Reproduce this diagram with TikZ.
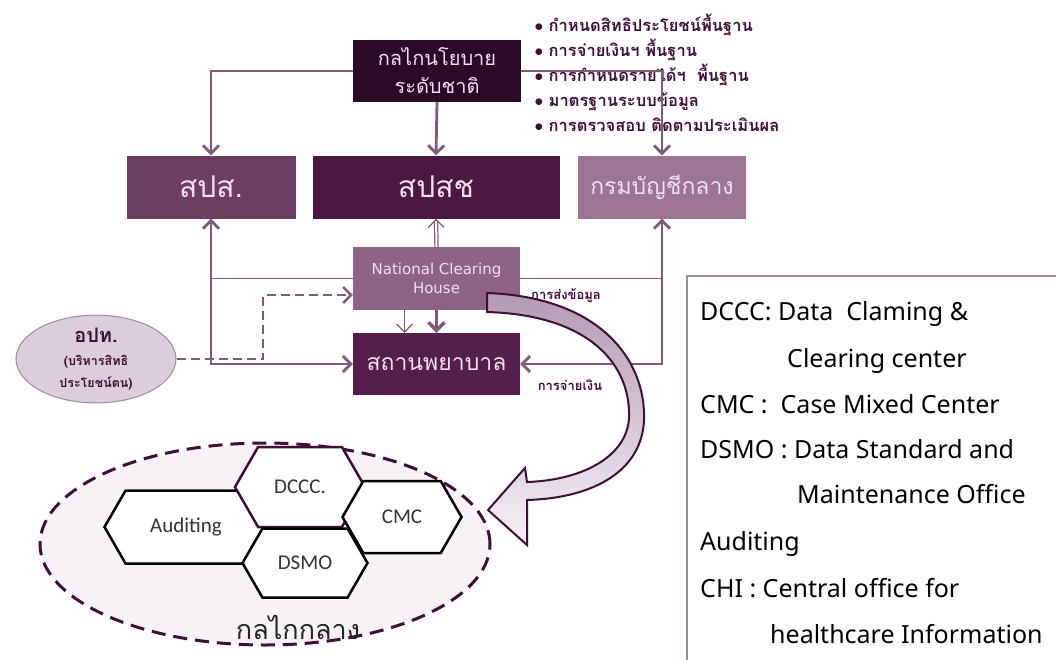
\documentclass[tikz,border=0pt]{standalone}
\usepackage{fontspec}
\usetikzlibrary{arrows.meta}
\usetikzlibrary{shapes.geometric,shapes.symbols}
\newfontfamily\thaifont[Script=Thai]{Loma}
\newfontfamily\legfont{Noto Sans}
\newfontfamily\hexfont{Carlito}
\newfontfamily\nchfont{DejaVu Sans}

\definecolor{policyc}{HTML}{2B0A26}
\definecolor{spsc}{HTML}{6D3D62}
\definecolor{spschc}{HTML}{4A1840}
\definecolor{cgdc}{HTML}{9C7593}
\definecolor{nchc}{HTML}{8E6486}
\definecolor{hospc}{HTML}{541F4A}
\definecolor{linec}{HTML}{7E5C78}
\definecolor{boxtext}{HTML}{F2DFEE}
\definecolor{darkc}{HTML}{3F0F38}
\definecolor{optc}{HTML}{DCCDDB}
\definecolor{mechc}{HTML}{F6F2F6}
\definecolor{ribbonc}{HTML}{B49AB2}
\definecolor{legc}{HTML}{9C8C9A}

\tikzset{
  box/.style={minimum width=168pt, minimum height=63pt, inner sep=0pt, text=boxtext, align=center},
  conn/.style={draw=linec, line width=2.8pt},
  thinconn/.style={draw=linec, line width=1.2pt},
  dashline/.style={draw=linec, line width=2.4pt, dash pattern=on 9pt off 5pt},
  lbl/.style={text=darkc, font=\thaifont\bfseries\fontsize{13}{15}\selectfont},
  hexbox/.style={shape=signal, signal to=west and east, signal pointer angle=120,
    draw=black, line width=2.5pt, fill=white, inner sep=0pt,
    font=\hexfont\fontsize{21}{24}\selectfont, text=black!80},
  legend/.style={anchor=base west, inner sep=0pt, font=\legfont\fontsize{25}{30}\selectfont},
  >={Straight Barb[length=8pt,width=16pt]}
}

\begin{document}
\begin{tikzpicture}[x=1pt,y=-1pt]
\useasboundingbox (0,0) rectangle (1056,659);

% top level
\node[box, fill=policyc, minimum height=62pt, font=\thaifont\fontsize{20}{28}\selectfont] (policy) at (437,71) {กลไกนโยบาย\\ระดับชาติ};
\node[anchor=north west, align=left, text=darkc, font=\thaifont\bfseries\fontsize{16.5}{25}\selectfont] (bul) at (531,10)
  {$\bullet$ กำหนดสิทธิประโยชน์พื้นฐาน\\
   $\bullet$ การจ่ายเงินฯ พื้นฐาน\\
   $\bullet$ การกำหนดรายได้ฯ\ \ พื้นฐาน\\
   $\bullet$ มาตรฐานระบบข้อมูล\\
   $\bullet$ การตรวจสอบ ติดตามประเมินผล};

% funds
\node[box, fill=spsc, minimum width=169pt, font=\thaifont\fontsize{30}{30}\selectfont] (sps) at (211,187) {สปส.};
\node[box, fill=spschc, minimum width=247pt, font=\thaifont\fontsize{30}{30}\selectfont] (spsch) at (436,187) {สปสช};
\node[box, fill=cgdc, font=\thaifont\fontsize{23}{23}\selectfont] (cgd) at (662,187) {กรมบัญชีกลาง};

% clearing house and hospital
\node[box, fill=nchc, minimum width=167pt, font=\nchfont\fontsize{15}{19}\selectfont] (nch) at (436.5,278.5) {National Clearing\\House};
\node[box, fill=hospc, minimum width=167pt, minimum height=62pt, font=\thaifont\fontsize{23}{23}\selectfont] (hosp) at (436.5,364) {สถานพยาบาล};

\node[ellipse, draw=legc, fill=optc, line width=1pt, minimum width=160pt, minimum height=76pt, align=center, text=darkc, inner sep=0pt, font=\thaifont\bfseries\fontsize{12.5}{22}\selectfont] (opt) at (96,359)
  {\fontsize{20}{20}\selectfont อปท.\\[1pt]
   \fontsize{12.5}{22}\selectfont (บริหารสิทธิ\\
   \fontsize{12.5}{22}\selectfont ประโยชน์ตน)};

\draw[conn,->] (policy.west) -| (sps.north);
\draw[conn,->] (policy.south) -- (spsch.north);
\draw[conn,->] (policy.east) -| (cgd.north);
\draw[conn,<->] (sps.south) |- (hosp.west);
\draw[conn,<->] (cgd.south) |- (hosp.east);
\draw[thinconn] (sps.south |- nch.west) -- (nch.west);
\draw[thinconn] (nch.east) -- (cgd.south |- nch.east);
\draw[thinconn, double distance=2pt, ->] (nch.north) -- (spsch.south);
\draw[thinconn, ->] ([xshift=-32pt]nch.south) -- ([xshift=-32pt]hosp.north);
\draw[conn, line width=3.5pt, ->] (nch.south) -- (hosp.north);
\coordinate (dbend) at (263,295);
\draw[dashline,->] (opt.east) -| (dbend) -- (dbend -| nch.west);

\node[lbl] (send) at (566,296) {การส่งข้อมูล};
\node[lbl] (pay) at (570,385) {การจ่ายเงิน};

% central mechanism
\node[ellipse, draw=darkc, line width=3pt, dash pattern=on 14pt off 8pt, fill=mechc, minimum width=450pt, minimum height=202pt] (mech) at (265,544) {};
\node[text=black!85, font=\thaifont\fontsize{27}{30}\selectfont] (mechlbl) at (298,627) {กลไกกลาง};

\node[hexbox, minimum width=163pt, minimum height=73pt] (audit) at (186,527) {Auditing};
\node[hexbox, draw=darkc, minimum width=130pt, minimum height=80pt] (dccc) at (300,487) {DCCC.};
\node[hexbox, minimum width=125pt, minimum height=69pt] (dsmo) at (305,563) {DSMO};
\node[hexbox, minimum width=119pt, minimum height=72pt] (cmc) at (402,517) {CMC};

% big arrow
\draw[darkc, line width=2pt, top color=ribbonc, bottom color=mechc]
  (487,293) .. controls (600,297) and (646,360) .. (644,420)
  .. controls (642,470) and (595,498) .. (527,500) -- (527,545) -- (488,510) -- (525,468) -- (527,482)
  .. controls (585,480) and (627,455) .. (629,418)
  .. controls (631,365) and (590,315) .. (487,312) -- cycle;

% legend
\draw[legc, line width=1.2pt, fill=white] (687,680) |- (1080,276);
\node[legend] (l1) at (700,320) {DCCC: Data\ \ Claming \&};
\node[legend] (l2) at (787,367) {Clearing center};
\node[legend] (l3) at (700,413) {CMC :\ \ Case Mixed Center};
\node[legend] (l4) at (700,458) {DSMO : Data Standard and};
\node[legend] (l5) at (797,503) {Maintenance Office};
\node[legend] (l6) at (700,550) {Auditing};
\node[legend] (l7) at (700,597) {CHI : Central office for};
\node[legend] (l8) at (770,643) {healthcare Information};
\end{tikzpicture}
\end{document}
